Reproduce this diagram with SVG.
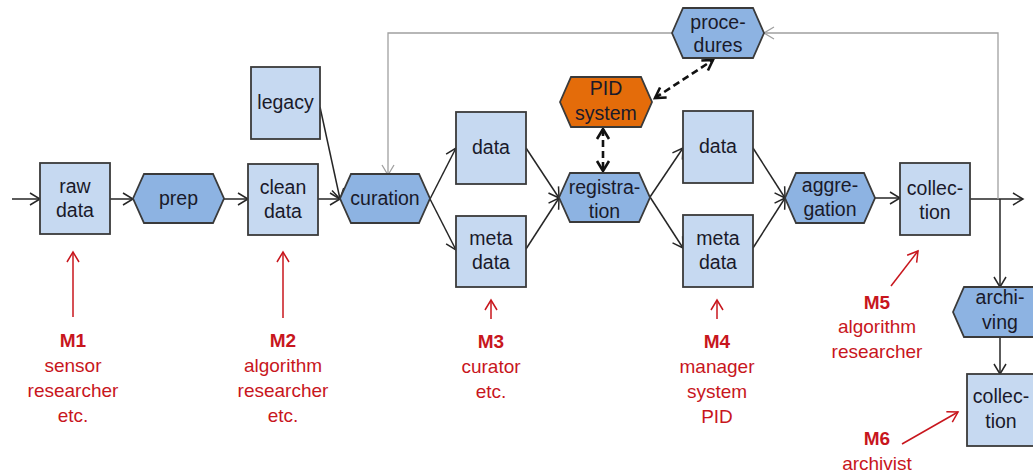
<svg xmlns="http://www.w3.org/2000/svg" width="1033" height="475" viewBox="0 0 1033 475">
<style>
.box{fill:#C6D9F1;stroke:#3A3A3A;stroke-width:1.8}
.hex{fill:#8DB3E2;stroke:#3A3A3A;stroke-width:1.8}
.pid{fill:#E46C0A;stroke:#3A3A3A;stroke-width:1.8}
.t{font-family:"Liberation Sans",Arial,sans-serif;font-size:19.5px;fill:#1a1a2a;text-anchor:middle}
.r{font-family:"Liberation Sans",Arial,sans-serif;font-size:19px;fill:#C8161D;text-anchor:middle}
.rb{font-weight:bold}
.c{fill:none;stroke:#262626;stroke-width:1.5;marker-end:url(#ah)}
.g{fill:none;stroke:#A0A0A0;stroke-width:1.3}
.d{fill:none;stroke:#111;stroke-width:2.6;stroke-dasharray:7,4;marker-end:url(#ahd);marker-start:url(#ahd)}
.ra{fill:none;stroke:#C8161D;stroke-width:1.5;marker-end:url(#ahr)}
</style>
<defs>
<marker id="ah" markerUnits="userSpaceOnUse" markerWidth="14" markerHeight="14" refX="11" refY="7" orient="auto" viewBox="0 0 14 14">
<path d="M1,1 L11,7 L1,13" fill="none" stroke="#262626" stroke-width="1.5"/>
</marker>
<marker id="ahg" markerUnits="userSpaceOnUse" markerWidth="14" markerHeight="14" refX="11" refY="7" orient="auto" viewBox="0 0 14 14">
<path d="M1,1 L11,7 L1,13" fill="none" stroke="#A0A0A0" stroke-width="1.3"/>
</marker>
<marker id="ahd" markerUnits="userSpaceOnUse" markerWidth="16" markerHeight="16" refX="12" refY="8" orient="auto-start-reverse" viewBox="0 0 16 16">
<path d="M2,2 L12,8 L2,14" fill="none" stroke="#111" stroke-width="2.6"/>
</marker>
<marker id="ahr" markerUnits="userSpaceOnUse" markerWidth="14" markerHeight="14" refX="11" refY="7" orient="auto" viewBox="0 0 14 14">
<path d="M1,1 L11,7 L1,13" fill="none" stroke="#C8161D" stroke-width="1.5"/>
</marker>
</defs>
<rect width="1033" height="475" fill="#fff"/>

<g id="connectors">
<path class="c" d="M12,199 L40,199"/>
<path class="c" d="M110,199 L133,199"/>
<path class="c" d="M224,199 L248,199"/>
<path class="c" d="M318,199 L340,199"/>
<path class="c" d="M320,107 L340,199"/>
<path class="c" d="M430,199 L456,148"/>
<path class="c" d="M430,199 L456,250"/>
<path class="c" d="M526,148 L559,198"/>
<path class="c" d="M526,249 L559,198"/>
<path class="c" d="M650,197 L683,148"/>
<path class="c" d="M650,197 L683,248"/>
<path class="c" d="M753,148 L785,198"/>
<path class="c" d="M753,248 L785,198"/>
<path class="c" d="M875,198 L900,198"/>
<path class="c" d="M970,199 L1023,199"/>
<path class="c" d="M1000,199 L1000,287"/>
<path class="c" d="M1000,337 L1000,374"/>
<path class="g" d="M998,199 L998,33 L764,33" marker-end="url(#ahg)"/>
<path class="g" d="M672,33 L388,33 L388,175" marker-end="url(#ahg)"/>
<path class="d" d="M603,129 L603,171"/>
<path class="d" d="M655,98 L713,60"/>
<path class="ra" d="M73,317 L73,252"/>
<path class="ra" d="M283,318 L283,252"/>
<path class="ra" d="M491,319 L491,300"/>
<path class="ra" d="M717,319 L717,300"/>
<path class="ra" d="M891,286 L918,251"/>
<path class="ra" d="M902,444 L958,412"/>
</g>

<g id="raw-data"><rect class="box" x="40" y="163" width="70" height="71"/><text class="t" x="75" y="193">raw</text><text class="t" x="75" y="217">data</text></g>
<g id="prep"><polygon class="hex" points="133,198.5 144,174 213,174 224,198.5 213,223 144,223"/><text class="t" x="178.5" y="205">prep</text></g>
<g id="clean-data"><rect class="box" x="248" y="164" width="70" height="71"/><text class="t" x="283" y="194">clean</text><text class="t" x="283" y="218">data</text></g>
<g id="legacy"><rect class="box" x="251" y="67" width="69" height="72"/><text class="t" x="285.5" y="109">legacy</text></g>
<g id="curation"><polygon class="hex" points="340,198.5 351,174 419,174 430,198.5 419,223 351,223"/><text class="t" x="385" y="205">curation</text></g>
<g id="data1"><rect class="box" x="456" y="112" width="70" height="72"/><text class="t" x="491" y="154">data</text></g>
<g id="meta1"><rect class="box" x="456" y="216" width="70" height="71"/><text class="t" x="491" y="245">meta</text><text class="t" x="491" y="269">data</text></g>
<g id="pid-system"><polygon class="pid" points="560,102 571,77 641,77 652,102 641,127 571,127"/><text class="t" x="606" y="95">PID</text><text class="t" x="606" y="120">system</text></g>
<g id="registration"><polygon class="hex" points="559,197.5 570,173 639,173 650,197.5 639,222 570,222"/><text class="t" x="604.5" y="194">registra-</text><text class="t" x="604.5" y="218">tion</text></g>
<g id="procedures"><polygon class="hex" points="672,33 683,8 753,8 764,33 753,58 683,58"/><text class="t" x="718" y="29">proce-</text><text class="t" x="718" y="52">dures</text></g>
<g id="data2"><rect class="box" x="683" y="111" width="70" height="72"/><text class="t" x="718" y="153">data</text></g>
<g id="meta2"><rect class="box" x="683" y="215" width="70" height="72"/><text class="t" x="718" y="245">meta</text><text class="t" x="718" y="269">data</text></g>
<g id="aggregation"><polygon class="hex" points="785,198 796,173 864,173 875,198 864,223 796,223"/><text class="t" x="830" y="192">aggre-</text><text class="t" x="830" y="216">gation</text></g>
<g id="collection"><rect class="box" x="900" y="163" width="70" height="72"/><text class="t" x="935" y="195">collec-</text><text class="t" x="935" y="219">tion</text></g>
<g id="archiving"><polygon class="hex" points="953,312 964,287 1034,287 1045,312 1034,337 964,337"/><text class="t" x="1000" y="304">archi-</text><text class="t" x="1000" y="329">ving</text></g>
<g id="collection2"><rect class="box" x="967" y="374" width="70" height="72"/><text class="t" x="1001" y="403">collec-</text><text class="t" x="1001" y="428">tion</text></g>

<g id="m1"><text class="r rb" x="73" y="347">M1</text><text class="r" x="73" y="372">sensor</text><text class="r" x="73" y="397">researcher</text><text class="r" x="73" y="422">etc.</text></g>
<g id="m2"><text class="r rb" x="283" y="347">M2</text><text class="r" x="283" y="372">algorithm</text><text class="r" x="283" y="397">researcher</text><text class="r" x="283" y="422">etc.</text></g>
<g id="m3"><text class="r rb" x="491" y="348">M3</text><text class="r" x="491" y="373">curator</text><text class="r" x="491" y="398">etc.</text></g>
<g id="m4"><text class="r rb" x="717" y="348">M4</text><text class="r" x="717" y="373">manager</text><text class="r" x="717" y="398">system</text><text class="r" x="717" y="423">PID</text></g>
<g id="m5"><text class="r rb" x="877" y="309">M5</text><text class="r" x="877" y="333">algorithm</text><text class="r" x="877" y="358">researcher</text></g>
<g id="m6"><text class="r rb" x="877" y="445">M6</text><text class="r" x="877" y="470">archivist</text></g>
</svg>
